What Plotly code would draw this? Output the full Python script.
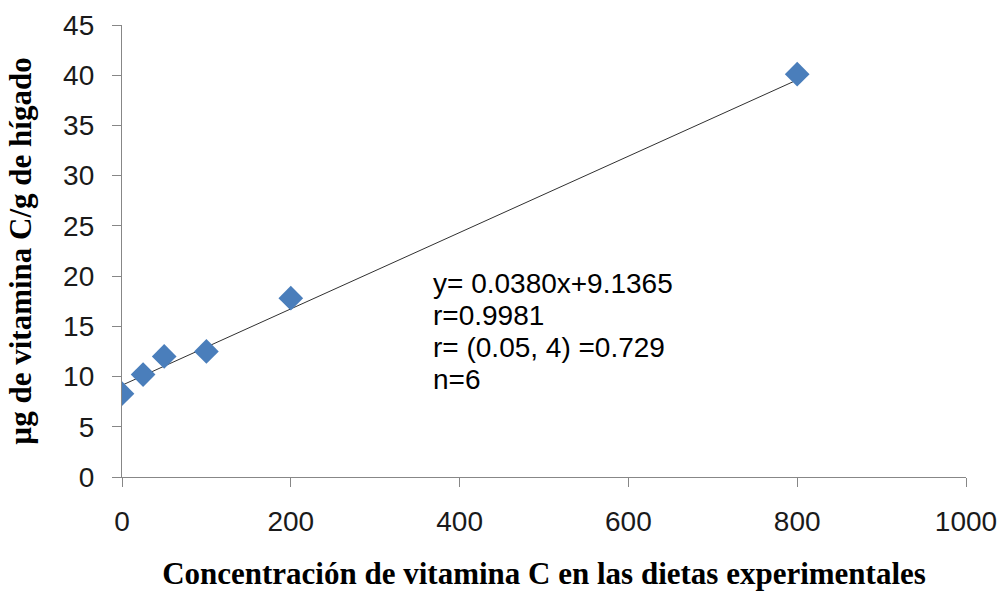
import plotly.graph_objects as go

# Vitamin C in diet vs. vitamin C stored in liver
diet_conc = [0, 25, 50, 100, 200, 800]
liver_vitc = [8.3, 10.2, 12.0, 12.5, 17.8, 40.1]

# Linear fit reported for the series
slope = 0.0380
intercept = 9.1365
fit_x = [0, 800]
fit_y = [intercept + slope * v for v in fit_x]

x_ticks = [0, 200, 400, 600, 800, 1000]
y_ticks = [0, 5, 10, 15, 20, 25, 30, 35, 40, 45]

stats_lines = ["y= 0.0380x+9.1365", "r=0.9981", "r= (0.05, 4) =0.729", "n=6"]

fig = go.Figure()
fig.add_trace(go.Scatter(
    x=fit_x, y=fit_y, mode="lines",
    line=dict(color="#303030", width=1), hoverinfo="skip", showlegend=False,
))
fig.add_trace(go.Scatter(
    x=diet_conc, y=liver_vitc, mode="markers",
    marker=dict(symbol="diamond", size=19, color="#4A7EBB"),
    showlegend=False,
))

# Fit statistics, one line per annotation for tight line spacing
for i, line in enumerate(stats_lines):
    fig.add_annotation(
        x=0.366, y=0.428 - i * 0.0710, xref="paper", yref="paper",
        xanchor="left", yanchor="middle", align="left", showarrow=False,
        text=line,
        font=dict(family="Liberation Sans, Arial", size=28, color="#000000"),
    )

axis_common = dict(
    showgrid=False, zeroline=False, showline=True, linecolor="#878787", linewidth=1.3,
    ticks="outside", ticklen=9, tickcolor="#878787", tickwidth=1.3, automargin=False,
    tickfont=dict(family="Liberation Sans, Arial", size=28, color="#1a1a1a"),
)

title_font = dict(family="Liberation Serif, Times New Roman", size=31, color="#000")

fig.update_layout(
    width=1004, height=591,
    paper_bgcolor="white", plot_bgcolor="white",
    margin=dict(l=122, r=38, t=25, b=114),
    xaxis=dict(
        range=[0, 1000], tickvals=x_ticks, ticklabelstandoff=10,
        title=dict(text="<b>Concentración de vitamina C en las dietas experimentales</b>",
                   font=title_font, standoff=30),
        **axis_common,
    ),
    yaxis=dict(
        range=[0, 45], tickvals=y_ticks, ticklabelstandoff=12,
        title=dict(text="<b>µg de vitamina C/g de hígado</b>",
                   font=title_font, standoff=22),
        **axis_common,
    ),
)

fig.write_html("out.html")
